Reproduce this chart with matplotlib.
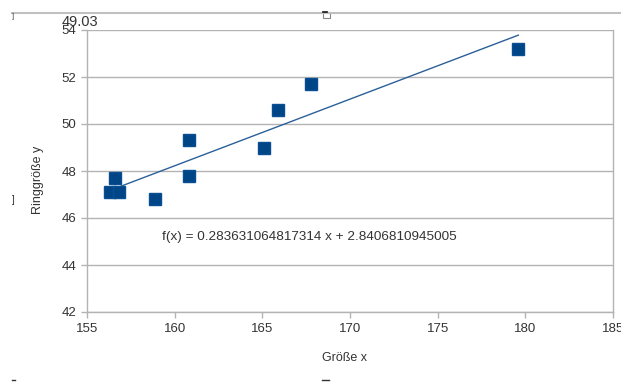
import matplotlib
matplotlib.use("Agg")
import matplotlib.pyplot as plt
from matplotlib.lines import Line2D
from matplotlib.patches import Rectangle

plt.rcParams['font.family'] = ['Liberation Sans', 'DejaVu Sans']

groesse_x = [156.3, 156.8, 156.6, 158.9, 160.8, 160.8, 165.1, 165.9, 167.8, 179.6]
ring_y = [47.1, 47.1, 47.7, 46.8, 47.8, 49.3, 49.0, 50.6, 51.7, 53.2]
slope = 0.283631064817314
intercept = 2.8406810945005
x_ticks = [155, 160, 165, 170, 175, 180, 185]
y_ticks = [42, 44, 46, 48, 50, 52, 54]
equation = "f(x) = 0.283631064817314 x + 2.8406810945005"
mean_label = "49.03"

fig = plt.figure(figsize=(6.21, 3.83), dpi=100)
ax = fig.add_axes([87/621, 71/383, 526/621, 282/383])

grid_c = '#b3b3b3'
ax.set_xlim(155, 185)
ax.set_ylim(42, 54)
ax.set_xticks(x_ticks)
ax.set_yticks(y_ticks)
ax.yaxis.grid(True, color=grid_c, lw=1)
ax.set_axisbelow(True)
for s in ['left', 'right', 'bottom']:
    ax.spines[s].set_color(grid_c)
    ax.spines[s].set_linewidth(1)
ax.spines['top'].set_visible(False)
ax.tick_params(axis='both', colors=grid_c, length=4, width=1, labelcolor='#333333', labelsize=9.5)
ax.tick_params(axis='x', pad=4)

xmin, xmax = min(groesse_x), max(groesse_x)
ax.plot([xmin, xmax], [slope*xmin + intercept, slope*xmax + intercept],
        color='#2a6099', lw=1, zorder=2)
ax.plot(groesse_x, ring_y, linestyle='none', marker='s', markersize=8.8,
        color='#004586', markeredgecolor='#0a4f91', zorder=3, clip_on=False)

ax.text(159.3, 45.2, equation, fontsize=9.7, color='#333333', va='center', ha='left')
ax.set_xlabel('Größe x', fontsize=9, color='#333333')
ax.xaxis.set_label_coords(0.5 - 5/526, -40/282)
ax.set_ylabel('Ringgröße y', fontsize=9, color='#333333')
ax.yaxis.set_label_coords(-43/526, 0.47)

fig.text(62/621, 1 - 22/383, mean_label, fontsize=10.5, color='#333333', va='center', ha='left')

# chart frame / selection artifacts
fig.add_artist(Line2D([12/621, 1], [1 - 13/383, 1 - 13/383], color='#c0c0c0', lw=1.5))
fig.add_artist(Rectangle((323/621, 1 - 18/383), 7/621, 6/383, facecolor='white',
                         edgecolor='#888888', lw=0.8))
fig.add_artist(Line2D([323/621, 327/621], [1 - 12/383, 1 - 12/383], color='#111111', lw=1.2))
fig.text(12/621, 1 - 200/383, ']', fontsize=7, color='#333333', va='center')
fig.text(12/621, 1 - 17/383, ']', fontsize=5, color='#333333', va='center')
fig.add_artist(Line2D([12/621, 15/621], [1 - 380/383, 1 - 380/383], color='#333333', lw=1))
fig.add_artist(Line2D([322/621, 329/621], [1 - 380/383, 1 - 380/383], color='#333333', lw=1))

fig.savefig('out.png', dpi=100)
